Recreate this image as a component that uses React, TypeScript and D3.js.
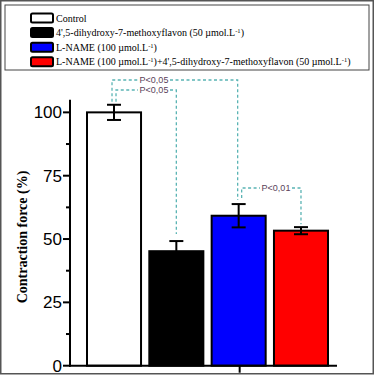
import React from "react";
import * as d3 from "d3";

const categories = ["Control", "Flavon", "L-NAME", "L-NAME+Flavon"];
const values = [100, 45.2, 59.2, 53.3];
const errors = [3.0, 4.0, 4.6, 1.4];
const colors = ["#ffffff", "#000000", "#0000ff", "#ff0000"];
const legendMain = [
  "Control",
  "4',5-dihydroxy-7-methoxyflavon (50 µmol.L",
  "L-NAME (100 µmol.L",
  "L-NAME (100 µmol.L",
];
const yTicks = [0, 25, 50, 75, 100];
const yMinor = [12.5, 37.5, 62.5, 87.5];
const sigLabels = ["P<0,05", "P<0,05", "P<0,01"];

export default function App() {
  const W = 375, H = 376;
  const y = d3.scaleLinear().domain([0, 105]).range([365.7, 99.7]);
  const x = d3.scaleBand<number>().domain(d3.range(categories.length)).range([87, 328]).paddingInner(0.133).paddingOuter(0);
  const bw = x.bandwidth();
  const cx = (i: number) => (x(i) as number) + bw / 2;
  const axisX0 = 70, axisX1 = 337;
  const teal = "#5ab4b4";
  const textCol = "#5a3f5a";
  const dash = "3,2.5";

  const sup = (t: string) => (
    <tspan baselineShift="super" fontSize={6.5}>{t}</tspan>
  );

  const legendRows = [
    <tspan>{legendMain[0]}</tspan>,
    <tspan>{legendMain[1]}{sup("-1")})</tspan>,
    <tspan>{legendMain[2]}{sup("-1")})</tspan>,
    <tspan>{legendMain[3]}{sup("-1")}<tspan>)+4',5-dihydroxy-7-methoxyflavon (50 µmol.L</tspan>{sup("-1")})</tspan>,
  ];

  const bracket = (xa: number, xb: number, yl: number, ya: number, yb: number, label: string, tx: number, key: string) => {
    const tw = 30;
    return (
      <g key={key}>
        <path d={`M${xa},${ya}V${yl}H${tx - tw / 2 - 1}`} fill="none" stroke={teal} strokeWidth={1.3} strokeDasharray={dash} />
        <path d={`M${tx + tw / 2 + 1},${yl}H${xb}V${yb}`} fill="none" stroke={teal} strokeWidth={1.3} strokeDasharray={dash} />
        <text x={tx} y={yl + 3.3} textAnchor="middle" fontFamily="Liberation Sans, Arial, sans-serif" fontSize={9} fill={textCol}>{label}</text>
      </g>
    );
  };

  return (
    <svg width={W} height={H} style={{ position: "absolute", left: 0, top: 0 }}>
      <rect x={0} y={0} width={W} height={H} fill="#fff" />
      <rect x={0.75} y={0.75} width={372.5} height={373} fill="none" stroke="#555" strokeWidth={1.5} />
      <rect x={5} y={5} width={364} height={65} fill="#fff" stroke="#444" strokeWidth={1} />
      {categories.map((c, i) => {
        const yy = 18 + i * 14.6;
        return (
          <g key={c}>
            <rect x={31} y={yy - 4.5} width={22} height={9} rx={1.5} fill={colors[i]} stroke="#000" strokeWidth={2} />
            <text x={56} y={yy + 3.5} fontFamily="Liberation Serif, Times New Roman, serif" fontSize={10} fill="#000">{legendRows[i]}</text>
          </g>
        );
      })}
      {values.map((v, i) => (
        <rect key={"b" + i} x={x(i)} y={y(v)} width={bw} height={y(0) - y(v)} fill={colors[i]} stroke="#000" strokeWidth={2} />
      ))}
      {values.map((v, i) => {
        const c = cx(i);
        return (
          <g key={"e" + i} stroke="#000" strokeWidth={2}>
            <line x1={c} x2={c} y1={y(v + errors[i])} y2={y(v - errors[i])} />
            <line x1={c - 7} x2={c + 7} y1={y(v + errors[i])} y2={y(v + errors[i])} />
            <line x1={c - 7} x2={c + 7} y1={y(v - errors[i])} y2={y(v - errors[i])} />
          </g>
        );
      })}
      <line x1={axisX0} x2={axisX0} y1={y(105)} y2={y(0) + 1} stroke="#000" strokeWidth={2} />
      <line x1={axisX0 - 1} x2={axisX1} y1={y(0)} y2={y(0)} stroke="#000" strokeWidth={2} />
      <line x1={cx(2) + 1} x2={cx(2) + 1} y1={y(0)} y2={y(0) + 7} stroke="#000" strokeWidth={2} />
      {yTicks.map((t) => (
        <g key={"t" + t}>
          <line x1={axisX0 - 7} x2={axisX0} y1={y(t)} y2={y(t)} stroke="#000" strokeWidth={2} />
          <text x={axisX0 - 8} y={y(t) + 6} textAnchor="end" fontFamily="Liberation Sans, Arial, sans-serif" fontSize={17} fill="#000">{t}</text>
        </g>
      ))}
      {yMinor.map((t) => (
        <line key={"m" + t} x1={axisX0 - 4} x2={axisX0} y1={y(t)} y2={y(t)} stroke="#000" strokeWidth={2} />
      ))}
      <text transform={`translate(27,237) rotate(-90)`} textAnchor="middle" fontFamily="Liberation Serif, Times New Roman, serif" fontWeight="bold" fontSize={14} fill="#000">Contraction force (%)</text>
      {bracket(cx(0) - 2, cx(2) - 1, 80, y(values[0] + errors[0]) - 3, y(values[2] + errors[2]) - 4, sigLabels[0], 154, "s1")}
      {bracket(cx(0) + 2, cx(1), 90, y(values[0] + errors[0]) - 3, y(values[1] + errors[1]) - 7, sigLabels[1], 154, "s2")}
      {bracket(cx(2) + 3, cx(3), 188, y(values[2] + errors[2]) - 6, y(values[3] + errors[3]) - 3, sigLabels[2], 276, "s3")}
    </svg>
  );
}
